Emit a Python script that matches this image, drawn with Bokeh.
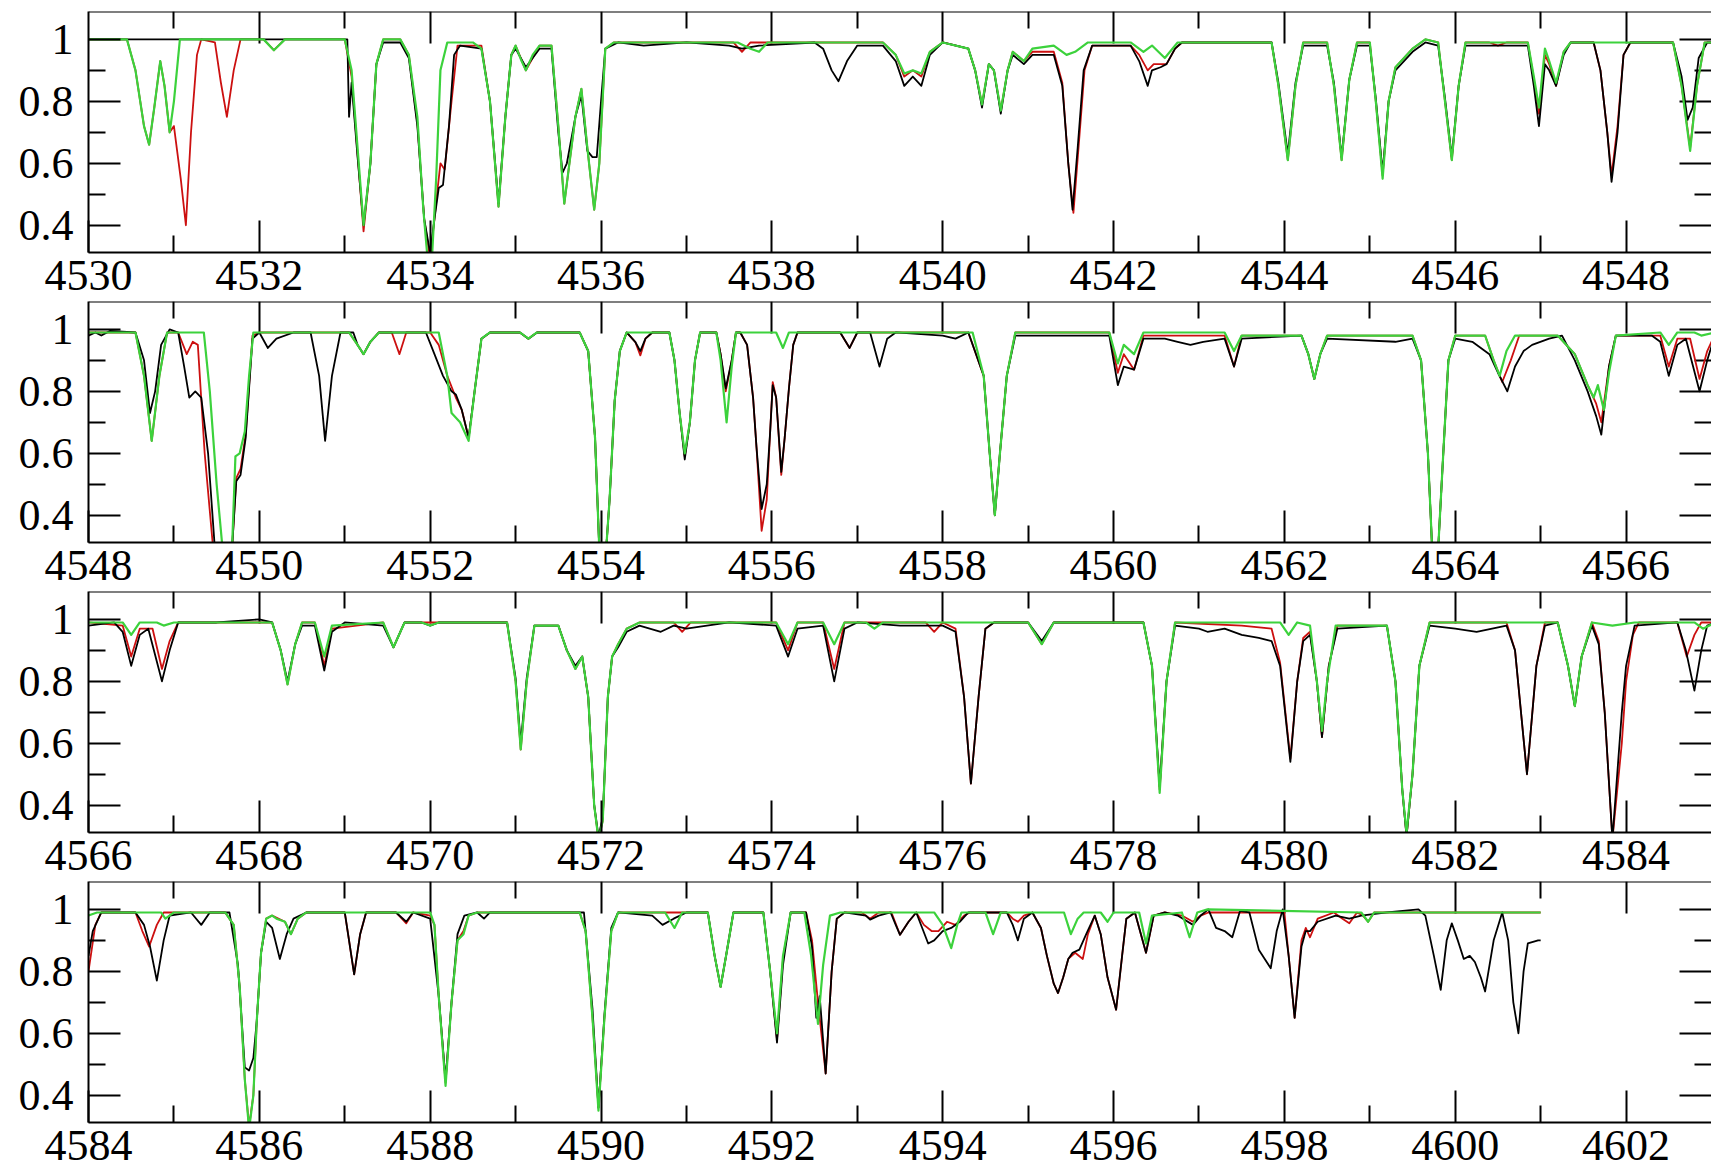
from bokeh.plotting import figure
from bokeh.layouts import column
from bokeh.models import LinearAxis, FixedTicker, Range1d, Grid, Span
from bokeh.embed import file_html
from bokeh.resources import INLINE

# ---------------- data (wavelength in Angstrom, normalised flux) ----------------
panel_ranges = [(4530, 4549), (4548, 4567), (4566, 4585), (4584, 4603)]
y_ticks = [0.4, 0.6, 0.8, 1.0]
y_minor_ticks = [0.5, 0.7, 0.9]
y_tick_labels = ["0.4", "0.6", "0.8", "1"]

# observed spectrum (black)
obs_1 = [(4530.00,1.00),(4533.03,1.00),(4533.05,0.75),(4533.08,0.86),(4533.15,0.62),(4533.22,0.40),(4533.30,0.60),(4533.37,0.92),(4533.45,0.99),(4533.65,0.99),(4533.75,0.94),(4533.85,0.72),(4533.93,0.42),(4534.00,0.31),(4534.05,0.42),(4534.10,0.52),(4534.15,0.53),(4534.22,0.72),(4534.28,0.95),(4534.35,0.98),(4534.60,0.97),(4534.70,0.80),(4534.80,0.47),(4534.88,0.75),(4534.95,0.95),(4535.00,0.97),(4535.12,0.91),(4535.28,0.97),(4535.42,0.97),(4535.50,0.70),(4535.55,0.57),(4535.60,0.60),(4535.70,0.75),(4535.77,0.82),(4535.84,0.64),(4535.90,0.62),(4535.95,0.62),(4536.00,0.80),(4536.05,0.97),(4536.20,0.99),(4536.50,0.98),(4537.00,0.99),(4537.50,0.98),(4537.65,0.97),(4537.85,0.98),(4538.50,0.99),(4538.60,0.97),(4538.70,0.90),(4538.78,0.865),(4538.88,0.93),(4539.00,0.98),(4539.30,0.98),(4539.45,0.93),(4539.55,0.85),(4539.65,0.88),(4539.75,0.85),(4539.85,0.95),(4540.00,0.99),(4540.30,0.97),(4540.38,0.90),(4540.46,0.78),(4540.54,0.92),(4540.60,0.90),(4540.68,0.76),(4540.76,0.90),(4540.82,0.95),(4540.95,0.92),(4541.05,0.95),(4541.30,0.95),(4541.40,0.85),(4541.47,0.60),(4541.52,0.45),(4541.58,0.65),(4541.65,0.90),(4541.75,0.98),(4542.20,0.98),(4542.30,0.93),(4542.40,0.85),(4542.45,0.90),(4542.55,0.91),(4542.62,0.92),(4542.72,0.97),(4542.80,0.99),(4543.85,0.99),(4543.93,0.86),(4544.04,0.63),(4544.13,0.86),(4544.22,0.98),(4544.50,0.98),(4544.58,0.86),(4544.67,0.62),(4544.76,0.87),(4544.85,0.98),(4545.00,0.98),(4545.07,0.81),(4545.15,0.57),(4545.22,0.80),(4545.30,0.90),(4545.50,0.96),(4545.65,0.99),(4545.80,0.98),(4545.88,0.81),(4545.96,0.62),(4546.04,0.85),(4546.12,0.98),(4546.85,0.98),(4546.92,0.85),(4546.98,0.72),(4547.05,0.92),(4547.10,0.90),(4547.18,0.85),(4547.27,0.95),(4547.35,0.99),(4547.62,0.99),(4547.70,0.90),(4547.78,0.70),(4547.83,0.54),(4547.90,0.70),(4547.97,0.95),(4548.05,0.99),(4548.55,0.99),(4548.65,0.88),(4548.72,0.74),(4548.78,0.78),(4548.85,0.94),(4548.95,0.99),(4549.05,0.99)]
obs_2 = [(4548.00,0.98),(4548.08,0.99),(4548.15,0.98),(4548.25,0.995),(4548.55,0.99),(4548.65,0.90),(4548.72,0.73),(4548.78,0.80),(4548.85,0.95),(4548.95,1.00),(4549.05,0.99),(4549.12,0.88),(4549.18,0.78),(4549.25,0.80),(4549.32,0.78),(4549.40,0.60),(4549.48,0.29),(4549.68,0.29),(4549.73,0.51),(4549.78,0.53),(4549.84,0.65),(4549.92,0.97),(4550.00,0.99),(4550.10,0.94),(4550.20,0.97),(4550.40,0.99),(4550.60,0.99),(4550.70,0.85),(4550.77,0.64),(4550.85,0.85),(4550.95,0.99),(4551.10,0.99),(4551.15,0.95),(4551.22,0.92),(4551.30,0.96),(4551.40,0.99),(4551.95,0.99),(4552.05,0.92),(4552.15,0.85),(4552.25,0.80),(4552.30,0.79),(4552.37,0.74),(4552.45,0.65),(4552.52,0.80),(4552.60,0.97),(4552.70,0.99),(4553.05,0.99),(4553.15,0.97),(4553.25,0.99),(4553.75,0.99),(4553.85,0.93),(4553.93,0.65),(4553.98,0.29),(4554.06,0.29),(4554.10,0.45),(4554.16,0.77),(4554.22,0.93),(4554.30,0.99),(4554.40,0.96),(4554.46,0.93),(4554.52,0.97),(4554.60,0.99),(4554.80,0.99),(4554.86,0.90),(4554.92,0.73),(4554.98,0.58),(4555.04,0.70),(4555.10,0.90),(4555.16,0.99),(4555.35,0.99),(4555.40,0.92),(4555.46,0.81),(4555.53,0.90),(4555.58,0.99),(4555.63,0.99),(4555.71,0.95),(4555.78,0.78),(4555.82,0.62),(4555.88,0.42),(4555.94,0.50),(4555.98,0.67),(4556.01,0.82),(4556.05,0.78),(4556.11,0.54),(4556.15,0.65),(4556.20,0.81),(4556.25,0.95),(4556.30,0.99),(4556.80,0.99),(4556.91,0.94),(4557.00,0.99),(4557.15,0.99),(4557.26,0.88),(4557.35,0.97),(4557.45,0.99),(4558.00,0.98),(4558.15,0.97),(4558.30,0.99),(4558.48,0.85),(4558.55,0.60),(4558.61,0.40),(4558.67,0.60),(4558.75,0.85),(4558.85,0.98),(4559.95,0.98),(4560.05,0.82),(4560.12,0.88),(4560.24,0.87),(4560.35,0.97),(4560.60,0.97),(4560.75,0.96),(4560.90,0.95),(4561.05,0.96),(4561.30,0.97),(4561.41,0.88),(4561.50,0.97),(4562.20,0.98),(4562.28,0.92),(4562.35,0.84),(4562.42,0.92),(4562.50,0.97),(4563.30,0.96),(4563.50,0.97),(4563.60,0.90),(4563.68,0.60),(4563.73,0.29),(4563.80,0.29),(4563.86,0.60),(4563.92,0.90),(4564.00,0.97),(4564.20,0.96),(4564.40,0.92),(4564.50,0.86),(4564.61,0.80),(4564.70,0.88),(4564.80,0.93),(4564.90,0.95),(4565.10,0.97),(4565.25,0.98),(4565.40,0.90),(4565.55,0.80),(4565.65,0.72),(4565.71,0.66),(4565.80,0.88),(4565.88,0.98),(4566.30,0.98),(4566.40,0.96),(4566.50,0.85),(4566.60,0.95),(4566.70,0.97),(4566.86,0.80),(4566.95,0.90),(4567.05,0.99)]
obs_3 = [(4566.00,0.98),(4566.30,0.99),(4566.40,0.96),(4566.50,0.85),(4566.60,0.95),(4566.70,0.97),(4566.86,0.80),(4566.95,0.90),(4567.05,0.99),(4567.50,0.99),(4568.00,1.00),(4568.15,0.99),(4568.25,0.90),(4568.33,0.80),(4568.42,0.92),(4568.50,0.98),(4568.65,0.98),(4568.76,0.835),(4568.85,0.96),(4569.00,0.99),(4569.45,0.98),(4569.57,0.91),(4569.70,0.99),(4569.90,0.99),(4570.00,0.98),(4570.10,0.99),(4570.90,0.99),(4571.00,0.81),(4571.06,0.60),(4571.13,0.81),(4571.22,0.98),(4571.50,0.98),(4571.60,0.90),(4571.70,0.85),(4571.78,0.88),(4571.85,0.75),(4571.92,0.40),(4571.97,0.30),(4572.02,0.36),(4572.08,0.75),(4572.13,0.88),(4572.20,0.91),(4572.30,0.96),(4572.45,0.98),(4572.70,0.96),(4572.85,0.98),(4573.00,0.97),(4573.50,0.99),(4574.05,0.98),(4574.19,0.88),(4574.30,0.97),(4574.60,0.98),(4574.73,0.80),(4574.85,0.97),(4575.00,0.99),(4575.50,0.98),(4576.00,0.98),(4576.15,0.96),(4576.25,0.75),(4576.33,0.47),(4576.42,0.75),(4576.50,0.97),(4576.60,0.99),(4577.00,0.99),(4577.16,0.93),(4577.30,0.99),(4578.35,0.99),(4578.45,0.85),(4578.54,0.46),(4578.62,0.80),(4578.72,0.98),(4579.00,0.97),(4579.10,0.96),(4579.30,0.97),(4579.50,0.95),(4579.70,0.94),(4579.85,0.93),(4579.95,0.85),(4580.07,0.54),(4580.15,0.80),(4580.22,0.93),(4580.30,0.95),(4580.38,0.80),(4580.44,0.62),(4580.52,0.85),(4580.62,0.97),(4581.20,0.98),(4581.30,0.80),(4581.38,0.45),(4581.43,0.30),(4581.50,0.50),(4581.58,0.85),(4581.70,0.98),(4582.00,0.97),(4582.25,0.96),(4582.60,0.98),(4582.70,0.90),(4582.84,0.50),(4582.95,0.85),(4583.05,0.98),(4583.20,0.99),(4583.32,0.85),(4583.40,0.72),(4583.48,0.88),(4583.60,0.98),(4583.68,0.92),(4583.75,0.70),(4583.84,0.29),(4583.95,0.70),(4584.00,0.85),(4584.10,0.98),(4584.60,0.99),(4584.70,0.90),(4584.80,0.77),(4584.88,0.90),(4584.95,0.98),(4585.05,0.99)]
obs_4 = [(4584.00,0.85),(4584.05,0.93),(4584.15,0.99),(4584.55,0.99),(4584.65,0.95),(4584.72,0.88),(4584.80,0.77),(4584.88,0.90),(4584.95,0.98),(4585.20,0.99),(4585.32,0.95),(4585.42,0.99),(4585.65,0.99),(4585.75,0.82),(4585.83,0.49),(4585.88,0.48),(4585.93,0.52),(4585.97,0.64),(4586.02,0.86),(4586.08,0.96),(4586.15,0.94),(4586.24,0.84),(4586.32,0.92),(4586.40,0.97),(4586.55,0.99),(4587.00,0.99),(4587.05,0.90),(4587.11,0.79),(4587.18,0.92),(4587.25,0.99),(4587.60,0.99),(4587.72,0.96),(4587.80,0.99),(4588.00,0.97),(4588.10,0.72),(4588.18,0.45),(4588.25,0.70),(4588.32,0.92),(4588.40,0.98),(4588.55,0.99),(4588.63,0.97),(4588.70,0.99),(4589.80,0.99),(4589.90,0.68),(4589.97,0.36),(4590.04,0.66),(4590.12,0.94),(4590.20,0.99),(4590.60,0.98),(4590.72,0.95),(4590.85,0.97),(4591.00,0.99),(4591.25,0.99),(4591.33,0.85),(4591.40,0.75),(4591.47,0.86),(4591.55,0.99),(4591.90,0.99),(4591.98,0.80),(4592.06,0.57),(4592.13,0.82),(4592.22,0.99),(4592.40,0.99),(4592.47,0.88),(4592.52,0.65),(4592.56,0.72),(4592.63,0.47),(4592.70,0.80),(4592.76,0.97),(4592.85,0.99),(4593.10,0.98),(4593.15,0.967),(4593.25,0.98),(4593.39,0.99),(4593.45,0.95),(4593.50,0.918),(4593.60,0.96),(4593.69,0.99),(4593.76,0.94),(4593.83,0.89),(4593.90,0.90),(4594.00,0.93),(4594.10,0.94),(4594.20,0.96),(4594.30,0.99),(4594.75,0.99),(4594.82,0.95),(4594.88,0.90),(4594.95,0.97),(4595.05,0.99),(4595.15,0.94),(4595.22,0.85),(4595.30,0.76),(4595.35,0.73),(4595.41,0.78),(4595.47,0.84),(4595.52,0.86),(4595.60,0.87),(4595.68,0.92),(4595.78,0.98),(4595.85,0.92),(4595.93,0.78),(4596.03,0.676),(4596.10,0.85),(4596.15,0.97),(4596.25,0.99),(4596.38,0.86),(4596.47,0.98),(4596.60,0.99),(4596.75,0.98),(4596.93,0.95),(4597.02,0.98),(4597.11,1.00),(4597.20,0.94),(4597.30,0.93),(4597.39,0.91),(4597.48,0.995),(4597.59,0.99),(4597.70,0.87),(4597.84,0.81),(4597.91,0.93),(4597.98,1.00),(4598.05,0.85),(4598.12,0.65),(4598.20,0.88),(4598.25,0.93),(4598.30,0.93),(4598.39,0.96),(4598.60,0.98),(4598.76,0.97),(4598.90,0.98),(4599.20,0.99),(4599.57,1.00),(4599.65,0.98),(4599.75,0.85),(4599.83,0.74),(4599.90,0.90),(4599.96,0.955),(4600.03,0.90),(4600.10,0.84),(4600.17,0.85),(4600.23,0.83),(4600.30,0.78),(4600.35,0.735),(4600.45,0.90),(4600.55,0.99),(4600.62,0.90),(4600.68,0.70),(4600.74,0.60),(4600.80,0.80),(4600.85,0.89),(4600.97,0.90),(4601.00,0.90)]

# first model (red)
model_a_1 = [(4530.00,1.00),(4530.45,1.00),(4530.55,0.90),(4530.65,0.72),(4530.71,0.66),(4530.77,0.78),(4530.84,0.93),(4530.89,0.85),(4530.95,0.70),(4531.00,0.72),(4531.08,0.55),(4531.14,0.40),(4531.20,0.70),(4531.27,0.95),(4531.32,1.00),(4531.48,0.99),(4531.55,0.86),(4531.62,0.75),(4531.70,0.90),(4531.78,1.00),(4532.05,1.00),(4532.17,0.965),(4532.30,1.00),(4533.00,1.00),(4533.08,0.88),(4533.15,0.63),(4533.22,0.38),(4533.30,0.60),(4533.37,0.92),(4533.45,1.00),(4533.65,1.00),(4533.75,0.95),(4533.85,0.73),(4533.93,0.42),(4534.00,0.29),(4534.08,0.50),(4534.12,0.60),(4534.17,0.58),(4534.25,0.80),(4534.32,0.98),(4534.60,0.98),(4534.70,0.80),(4534.80,0.46),(4534.88,0.75),(4534.95,0.95),(4535.00,0.98),(4535.12,0.90),(4535.28,0.98),(4535.42,0.98),(4535.50,0.72),(4535.57,0.47),(4535.63,0.60),(4535.70,0.75),(4535.77,0.84),(4535.84,0.65),(4535.92,0.45),(4535.98,0.60),(4536.05,0.97),(4536.15,0.99),(4537.55,0.99),(4537.65,0.96),(4537.75,0.99),(4539.30,0.99),(4539.45,0.95),(4539.55,0.88),(4539.65,0.90),(4539.75,0.88),(4539.85,0.96),(4540.00,0.99),(4540.30,0.97),(4540.38,0.90),(4540.46,0.79),(4540.54,0.92),(4540.60,0.90),(4540.68,0.77),(4540.76,0.90),(4540.82,0.96),(4540.95,0.93),(4541.05,0.96),(4541.30,0.96),(4541.40,0.86),(4541.47,0.60),(4541.53,0.44),(4541.59,0.65),(4541.66,0.90),(4541.75,0.98),(4542.20,0.98),(4542.30,0.95),(4542.40,0.90),(4542.47,0.92),(4542.55,0.92),(4542.62,0.92),(4542.72,0.97),(4542.80,0.99),(4543.85,0.99),(4543.93,0.85),(4544.04,0.61),(4544.13,0.85),(4544.22,0.99),(4544.50,0.99),(4544.58,0.85),(4544.67,0.61),(4544.76,0.87),(4544.85,0.99),(4545.00,0.99),(4545.07,0.80),(4545.15,0.56),(4545.22,0.80),(4545.30,0.91),(4545.50,0.97),(4545.65,1.00),(4545.80,0.99),(4545.88,0.80),(4545.96,0.61),(4546.04,0.85),(4546.12,0.99),(4546.40,0.99),(4546.50,0.98),(4546.60,0.99),(4546.85,0.99),(4546.92,0.87),(4546.98,0.76),(4547.05,0.95),(4547.10,0.92),(4547.18,0.85),(4547.27,0.96),(4547.35,0.99),(4547.62,0.99),(4547.70,0.90),(4547.78,0.70),(4547.83,0.56),(4547.90,0.72),(4547.97,0.95),(4548.05,0.99),(4548.55,0.99),(4548.65,0.85),(4548.75,0.65),(4548.83,0.85),(4548.92,0.99),(4549.05,0.99)]
model_a_2 = [(4548.00,0.99),(4548.55,0.99),(4548.65,0.85),(4548.74,0.64),(4548.83,0.85),(4548.92,0.99),(4549.05,0.99),(4549.15,0.92),(4549.22,0.96),(4549.28,0.95),(4549.36,0.60),(4549.46,0.29),(4549.68,0.29),(4549.73,0.52),(4549.78,0.55),(4549.84,0.66),(4549.92,0.98),(4550.00,0.99),(4551.05,0.99),(4551.15,0.95),(4551.22,0.92),(4551.30,0.96),(4551.40,0.99),(4551.55,0.99),(4551.64,0.92),(4551.72,0.99),(4552.00,0.99),(4552.10,0.95),(4552.20,0.85),(4552.30,0.78),(4552.37,0.74),(4552.45,0.65),(4552.52,0.80),(4552.60,0.97),(4552.70,0.99),(4553.05,0.99),(4553.15,0.97),(4553.25,0.99),(4553.75,0.99),(4553.85,0.93),(4553.93,0.65),(4553.98,0.29),(4554.06,0.29),(4554.10,0.45),(4554.16,0.77),(4554.22,0.93),(4554.30,0.99),(4554.40,0.96),(4554.46,0.916),(4554.52,0.97),(4554.60,0.99),(4554.80,0.99),(4554.86,0.90),(4554.92,0.73),(4554.98,0.59),(4555.04,0.70),(4555.10,0.90),(4555.16,0.99),(4555.35,0.99),(4555.40,0.92),(4555.46,0.80),(4555.53,0.90),(4555.58,0.99),(4555.63,0.99),(4555.71,0.95),(4555.78,0.78),(4555.82,0.62),(4555.88,0.35),(4555.94,0.45),(4555.98,0.67),(4556.01,0.83),(4556.05,0.78),(4556.11,0.53),(4556.15,0.65),(4556.20,0.81),(4556.25,0.95),(4556.30,0.99),(4556.80,0.99),(4556.91,0.94),(4557.00,0.99),(4558.30,0.99),(4558.48,0.85),(4558.55,0.60),(4558.61,0.40),(4558.67,0.60),(4558.75,0.85),(4558.85,0.99),(4559.95,0.99),(4560.05,0.86),(4560.12,0.92),(4560.24,0.87),(4560.35,0.98),(4561.30,0.98),(4561.41,0.88),(4561.50,0.98),(4562.20,0.98),(4562.28,0.92),(4562.35,0.84),(4562.42,0.92),(4562.50,0.98),(4563.50,0.98),(4563.60,0.90),(4563.68,0.60),(4563.73,0.29),(4563.80,0.29),(4563.86,0.60),(4563.92,0.90),(4564.00,0.98),(4564.35,0.98),(4564.45,0.90),(4564.55,0.83),(4564.65,0.90),(4564.75,0.98),(4565.20,0.98),(4565.40,0.92),(4565.55,0.82),(4565.65,0.76),(4565.71,0.70),(4565.80,0.88),(4565.88,0.98),(4566.40,0.98),(4566.50,0.88),(4566.60,0.97),(4566.75,0.97),(4566.86,0.84),(4566.95,0.93),(4567.05,0.99)]
model_a_3 = [(4566.00,0.99),(4566.40,0.98),(4566.50,0.88),(4566.60,0.97),(4566.75,0.97),(4566.86,0.84),(4566.95,0.93),(4567.05,0.99),(4568.15,0.99),(4568.25,0.90),(4568.33,0.79),(4568.42,0.92),(4568.50,0.99),(4568.65,0.99),(4568.76,0.85),(4568.85,0.97),(4569.45,0.99),(4569.57,0.91),(4569.70,0.99),(4570.90,0.99),(4571.00,0.80),(4571.06,0.58),(4571.13,0.80),(4571.22,0.98),(4571.50,0.98),(4571.60,0.90),(4571.70,0.84),(4571.78,0.88),(4571.85,0.75),(4571.92,0.40),(4571.97,0.29),(4572.02,0.35),(4572.08,0.75),(4572.13,0.88),(4572.20,0.92),(4572.30,0.97),(4572.45,0.99),(4572.85,0.99),(4572.95,0.96),(4573.05,0.99),(4574.05,0.99),(4574.19,0.90),(4574.30,0.99),(4574.60,0.99),(4574.73,0.84),(4574.85,0.99),(4575.80,0.99),(4575.90,0.96),(4576.00,0.99),(4576.15,0.97),(4576.25,0.75),(4576.33,0.47),(4576.42,0.75),(4576.50,0.97),(4576.60,0.99),(4577.00,0.99),(4577.16,0.92),(4577.30,0.99),(4578.35,0.99),(4578.45,0.85),(4578.54,0.45),(4578.62,0.80),(4578.72,0.99),(4579.50,0.98),(4579.85,0.97),(4579.95,0.86),(4580.07,0.55),(4580.15,0.80),(4580.22,0.94),(4580.30,0.96),(4580.38,0.80),(4580.44,0.62),(4580.52,0.85),(4580.62,0.98),(4581.20,0.98),(4581.30,0.80),(4581.38,0.45),(4581.43,0.30),(4581.50,0.50),(4581.58,0.85),(4581.70,0.99),(4582.60,0.99),(4582.70,0.90),(4582.84,0.50),(4582.95,0.85),(4583.05,0.99),(4583.20,0.99),(4583.32,0.85),(4583.40,0.72),(4583.48,0.88),(4583.60,0.99),(4583.68,0.93),(4583.75,0.70),(4583.84,0.29),(4583.95,0.60),(4584.00,0.80),(4584.08,0.95),(4584.15,0.99),(4584.60,0.99),(4584.71,0.88),(4584.80,0.95),(4584.88,0.99),(4585.05,0.99)]
model_a_4 = [(4584.00,0.80),(4584.08,0.95),(4584.15,0.99),(4584.55,0.99),(4584.63,0.93),(4584.71,0.88),(4584.80,0.95),(4584.88,0.99),(4585.60,0.99),(4585.70,0.95),(4585.77,0.75),(4585.83,0.45),(4585.88,0.30),(4585.93,0.40),(4585.97,0.64),(4586.02,0.86),(4586.08,0.97),(4586.15,0.98),(4586.30,0.96),(4586.37,0.92),(4586.45,0.97),(4586.55,0.99),(4587.00,0.99),(4587.05,0.90),(4587.11,0.79),(4587.18,0.92),(4587.25,0.99),(4587.60,0.99),(4587.72,0.955),(4587.80,0.99),(4588.00,0.98),(4588.05,0.95),(4588.10,0.72),(4588.18,0.44),(4588.25,0.70),(4588.32,0.90),(4588.39,0.93),(4588.45,0.98),(4588.55,0.99),(4589.75,0.99),(4589.82,0.93),(4589.90,0.65),(4589.97,0.36),(4590.04,0.65),(4590.12,0.93),(4590.20,0.99),(4591.25,0.99),(4591.33,0.85),(4591.40,0.75),(4591.47,0.86),(4591.55,0.99),(4591.90,0.99),(4591.98,0.80),(4592.06,0.58),(4592.13,0.84),(4592.22,0.99),(4592.40,0.99),(4592.47,0.90),(4592.54,0.70),(4592.63,0.47),(4592.70,0.80),(4592.76,0.97),(4592.85,0.99),(4593.05,0.99),(4593.15,0.97),(4593.25,0.99),(4593.40,0.99),(4593.50,0.918),(4593.60,0.96),(4593.69,0.99),(4593.78,0.95),(4593.87,0.93),(4593.95,0.93),(4594.05,0.96),(4594.15,0.95),(4594.25,0.98),(4594.32,0.99),(4594.75,0.99),(4594.82,0.97),(4594.88,0.96),(4594.95,0.98),(4595.05,0.99),(4595.15,0.94),(4595.22,0.85),(4595.30,0.76),(4595.35,0.73),(4595.41,0.78),(4595.47,0.84),(4595.55,0.86),(4595.64,0.84),(4595.70,0.92),(4595.78,0.98),(4595.85,0.92),(4595.93,0.78),(4596.03,0.676),(4596.10,0.85),(4596.15,0.97),(4596.25,0.99),(4596.38,0.86),(4596.47,0.98),(4596.60,0.99),(4596.80,0.98),(4596.93,0.96),(4597.02,0.98),(4597.11,0.99),(4597.90,0.99),(4598.00,0.99),(4598.05,0.85),(4598.12,0.65),(4598.20,0.90),(4598.25,0.94),(4598.30,0.91),(4598.39,0.97),(4598.58,0.99),(4598.68,0.97),(4598.76,0.955),(4598.85,0.99),(4598.92,0.98),(4598.98,0.96),(4599.05,0.99),(4601.00,0.99)]

# second model (green)
model_b_1 = [(4530.00,1.00),(4530.45,1.00),(4530.55,0.90),(4530.65,0.72),(4530.71,0.66),(4530.77,0.78),(4530.84,0.93),(4530.89,0.85),(4530.95,0.70),(4531.00,0.80),(4531.07,1.00),(4532.05,1.00),(4532.17,0.965),(4532.30,1.00),(4533.00,1.00),(4533.08,0.90),(4533.15,0.65),(4533.22,0.40),(4533.30,0.60),(4533.37,0.92),(4533.45,1.00),(4533.65,1.00),(4533.75,0.95),(4533.85,0.75),(4533.92,0.45),(4533.97,0.29),(4534.02,0.29),(4534.07,0.55),(4534.12,0.90),(4534.20,0.99),(4534.50,0.99),(4534.60,0.97),(4534.70,0.80),(4534.80,0.46),(4534.88,0.75),(4534.95,0.95),(4535.00,0.98),(4535.07,0.93),(4535.12,0.90),(4535.20,0.95),(4535.28,0.98),(4535.42,0.98),(4535.50,0.72),(4535.57,0.47),(4535.63,0.60),(4535.70,0.75),(4535.77,0.84),(4535.84,0.65),(4535.92,0.45),(4535.98,0.60),(4536.05,0.97),(4536.15,0.99),(4537.60,0.99),(4537.75,0.97),(4537.85,0.96),(4537.95,0.99),(4539.30,0.99),(4539.45,0.95),(4539.55,0.89),(4539.65,0.90),(4539.75,0.89),(4539.85,0.96),(4540.00,0.99),(4540.30,0.97),(4540.38,0.90),(4540.46,0.79),(4540.54,0.92),(4540.60,0.90),(4540.68,0.77),(4540.76,0.90),(4540.82,0.96),(4540.95,0.93),(4541.05,0.97),(4541.30,0.98),(4541.45,0.95),(4541.55,0.96),(4541.70,0.99),(4542.20,0.99),(4542.35,0.96),(4542.45,0.98),(4542.60,0.94),(4542.75,0.99),(4543.85,0.99),(4543.93,0.85),(4544.04,0.61),(4544.13,0.85),(4544.22,0.99),(4544.50,0.99),(4544.58,0.85),(4544.67,0.61),(4544.76,0.87),(4544.85,0.99),(4545.00,0.99),(4545.07,0.80),(4545.15,0.55),(4545.22,0.80),(4545.30,0.91),(4545.50,0.97),(4545.65,1.00),(4545.80,0.99),(4545.88,0.80),(4545.96,0.61),(4546.04,0.85),(4546.12,0.99),(4546.85,0.99),(4546.92,0.88),(4546.98,0.78),(4547.05,0.97),(4547.10,0.93),(4547.18,0.86),(4547.27,0.96),(4547.35,0.99),(4548.55,0.99),(4548.65,0.85),(4548.75,0.64),(4548.83,0.85),(4548.92,0.99),(4549.05,0.99)]
model_b_2 = [(4548.00,0.99),(4548.55,0.99),(4548.65,0.85),(4548.74,0.64),(4548.83,0.85),(4548.92,0.99),(4549.35,0.99),(4549.42,0.80),(4549.50,0.50),(4549.57,0.29),(4549.68,0.29),(4549.72,0.59),(4549.77,0.60),(4549.83,0.67),(4549.88,0.85),(4549.93,0.99),(4551.05,0.99),(4551.15,0.95),(4551.22,0.92),(4551.30,0.96),(4551.40,0.99),(4552.10,0.99),(4552.20,0.85),(4552.25,0.73),(4552.35,0.70),(4552.45,0.64),(4552.52,0.80),(4552.60,0.97),(4552.70,0.99),(4553.05,0.99),(4553.15,0.97),(4553.25,0.99),(4553.75,0.99),(4553.85,0.93),(4553.93,0.65),(4553.98,0.29),(4554.06,0.29),(4554.10,0.45),(4554.16,0.77),(4554.22,0.93),(4554.30,0.99),(4554.80,0.99),(4554.86,0.90),(4554.92,0.73),(4554.98,0.60),(4555.04,0.70),(4555.10,0.90),(4555.16,0.99),(4555.35,0.99),(4555.40,0.90),(4555.47,0.70),(4555.53,0.88),(4555.58,0.99),(4556.05,0.99),(4556.13,0.94),(4556.20,0.99),(4558.35,0.99),(4558.48,0.85),(4558.55,0.60),(4558.61,0.40),(4558.67,0.60),(4558.75,0.85),(4558.85,0.99),(4559.95,0.99),(4560.05,0.89),(4560.12,0.95),(4560.24,0.92),(4560.35,0.99),(4561.30,0.99),(4561.41,0.93),(4561.50,0.98),(4562.20,0.98),(4562.28,0.92),(4562.35,0.84),(4562.42,0.92),(4562.50,0.98),(4563.50,0.98),(4563.60,0.90),(4563.68,0.60),(4563.73,0.29),(4563.80,0.29),(4563.86,0.60),(4563.92,0.90),(4564.00,0.98),(4564.35,0.98),(4564.45,0.90),(4564.52,0.85),(4564.60,0.93),(4564.70,0.98),(4565.20,0.98),(4565.40,0.92),(4565.55,0.82),(4565.62,0.78),(4565.67,0.82),(4565.74,0.74),(4565.80,0.86),(4565.88,0.98),(4566.40,0.99),(4566.50,0.95),(4566.60,0.99),(4566.80,0.99),(4566.88,0.98),(4567.05,0.99)]
model_b_3 = [(4566.00,0.99),(4566.40,0.99),(4566.50,0.95),(4566.60,0.99),(4566.80,0.99),(4566.88,0.98),(4567.00,0.99),(4568.15,0.99),(4568.25,0.90),(4568.33,0.79),(4568.42,0.92),(4568.50,0.99),(4568.65,0.99),(4568.76,0.88),(4568.85,0.98),(4569.45,0.99),(4569.57,0.91),(4569.70,0.99),(4569.90,0.99),(4570.00,0.98),(4570.10,0.99),(4570.90,0.99),(4571.00,0.80),(4571.06,0.58),(4571.13,0.80),(4571.22,0.98),(4571.50,0.98),(4571.60,0.90),(4571.70,0.84),(4571.78,0.88),(4571.85,0.75),(4571.92,0.40),(4571.97,0.29),(4572.02,0.35),(4572.08,0.75),(4572.13,0.88),(4572.20,0.92),(4572.30,0.97),(4572.45,0.99),(4574.05,0.99),(4574.19,0.92),(4574.30,0.99),(4574.60,0.99),(4574.73,0.92),(4574.85,0.99),(4575.10,0.99),(4575.20,0.97),(4575.30,0.99),(4577.00,0.99),(4577.16,0.92),(4577.30,0.99),(4578.35,0.99),(4578.45,0.85),(4578.54,0.44),(4578.62,0.80),(4578.72,0.99),(4579.95,0.99),(4580.05,0.95),(4580.15,0.99),(4580.30,0.98),(4580.38,0.80),(4580.44,0.64),(4580.50,0.80),(4580.60,0.98),(4581.20,0.98),(4581.30,0.80),(4581.38,0.45),(4581.43,0.31),(4581.50,0.50),(4581.58,0.85),(4581.70,0.99),(4583.20,0.99),(4583.32,0.85),(4583.40,0.72),(4583.48,0.88),(4583.60,0.99),(4583.84,0.98),(4584.10,0.99),(4584.80,0.99),(4584.90,0.97),(4585.05,0.99)]
model_b_4 = [(4584.00,0.98),(4584.10,0.99),(4584.85,0.99),(4584.90,0.97),(4585.00,0.99),(4585.60,0.99),(4585.70,0.95),(4585.77,0.75),(4585.83,0.45),(4585.88,0.29),(4585.93,0.40),(4585.97,0.64),(4586.02,0.86),(4586.08,0.97),(4586.15,0.98),(4586.20,0.97),(4586.30,0.96),(4586.37,0.92),(4586.45,0.97),(4586.55,0.99),(4588.00,0.99),(4588.05,0.95),(4588.10,0.72),(4588.18,0.43),(4588.25,0.70),(4588.32,0.90),(4588.39,0.92),(4588.45,0.98),(4588.55,0.99),(4589.75,0.99),(4589.82,0.93),(4589.90,0.65),(4589.97,0.35),(4590.04,0.65),(4590.12,0.93),(4590.20,0.99),(4590.75,0.99),(4590.86,0.94),(4590.95,0.99),(4591.25,0.99),(4591.33,0.85),(4591.40,0.75),(4591.47,0.86),(4591.55,0.99),(4591.90,0.99),(4591.98,0.80),(4592.06,0.60),(4592.13,0.85),(4592.22,0.99),(4592.38,0.99),(4592.46,0.85),(4592.54,0.63),(4592.60,0.82),(4592.68,0.98),(4592.80,0.99),(4593.90,0.99),(4594.00,0.95),(4594.10,0.875),(4594.17,0.95),(4594.22,0.99),(4594.50,0.99),(4594.59,0.92),(4594.68,0.99),(4595.42,0.99),(4595.50,0.92),(4595.58,0.97),(4595.65,0.99),(4595.85,0.99),(4595.93,0.96),(4596.00,0.99),(4596.30,0.99),(4596.38,0.89),(4596.45,0.98),(4596.80,0.99),(4596.89,0.91),(4596.98,0.99),(4597.10,1.00),(4598.90,0.99),(4598.98,0.96),(4599.05,0.99),(4601.00,0.99)]

observed = [obs_1, obs_2, obs_3, obs_4]
model_a = [model_a_1, model_a_2, model_a_3, model_a_4]
model_b = [model_b_1, model_b_2, model_b_3, model_b_4]

# ---------------- styling ----------------
Y0, Y1 = 0.312, 1.09
FRAME_W, FRAME_H = 1623, 241
LEFT = 88
TOP_FIRST = 11
FONT = "Liberation Serif"
FSIZE = "44px"
MAJOR_LEN, MINOR_LEN = 32, 17     # tick lengths in pixels
TICK_W = 2


def style(ax):
    ax.axis_line_width = TICK_W
    ax.axis_line_color = "black"
    ax.major_tick_in = MAJOR_LEN
    ax.major_tick_out = 0
    ax.minor_tick_in = MINOR_LEN
    ax.minor_tick_out = 0
    ax.major_tick_line_width = TICK_W
    ax.minor_tick_line_width = TICK_W
    ax.major_tick_line_color = "black"
    ax.minor_tick_line_color = "black"
    ax.major_label_text_font = FONT
    ax.major_label_text_color = "black"
    ax.major_label_text_font_size = FSIZE


HAS_CROSS = "cross_bounds" in Grid.properties()


def mirror_ticks(p, dim, ticks, length_px, lo, hi, span_px):
    """Inward tick marks on the top (dim=0) or right (dim=1) frame edge."""
    length = (hi - lo) * length_px / span_px
    if HAS_CROSS:
        g = Grid(dimension=dim, ticker=FixedTicker(ticks=ticks),
                 grid_line_color="black", grid_line_width=TICK_W,
                 minor_grid_line_color=None, cross_bounds=(hi - length, hi))
        p.add_layout(g)
    else:
        if dim == 0:
            p.segment(x0=ticks, x1=ticks, y0=[hi] * len(ticks), y1=[hi - length] * len(ticks),
                      line_color="black", line_width=TICK_W)
        else:
            p.segment(x0=[hi] * len(ticks), x1=[hi - length] * len(ticks), y0=ticks, y1=ticks,
                      line_color="black", line_width=TICK_W)


figs = []
for i, (lo, hi) in enumerate(panel_ranges):
    p = figure(frame_width=FRAME_W, frame_height=FRAME_H,
               x_range=Range1d(lo, hi), y_range=Range1d(Y0, Y1),
               output_backend="svg", toolbar_location=None,
               x_axis_location=None, y_axis_location=None,
               min_border_left=LEFT, min_border_right=0,
               min_border_top=TOP_FIRST if i == 0 else 0, min_border_bottom=49,
               background_fill_color="white", border_fill_color="white",
               outline_line_color=None)
    p.grid.visible = False

    x_major = list(range(lo, hi + 1, 2))
    x_minor = [v for v in range(lo + 1, hi, 2)]

    bottom = LinearAxis(ticker=FixedTicker(ticks=x_major, minor_ticks=x_minor))
    style(bottom)
    bottom.major_label_standoff = 8
    left = LinearAxis(ticker=FixedTicker(ticks=y_ticks, minor_ticks=y_minor_ticks),
                      major_label_overrides=dict(zip(y_ticks, y_tick_labels)))
    style(left)
    left.major_label_standoff = 15
    p.add_layout(bottom, "below")
    p.add_layout(left, "left")

    # top frame edge and mirrored inward ticks (top and right)
    p.add_layout(Span(location=Y1, dimension="width", line_color="black", line_width=TICK_W))
    mirror_ticks(p, 0, x_major, MAJOR_LEN, Y0, Y1, FRAME_H)
    mirror_ticks(p, 0, x_minor, MINOR_LEN, Y0, Y1, FRAME_H)
    mirror_ticks(p, 1, y_ticks, MAJOR_LEN, lo, hi, FRAME_W)
    mirror_ticks(p, 1, y_minor_ticks, MINOR_LEN, lo, hi, FRAME_W)

    for data, color, width in ((model_a[i], "#cc1010", 1.8),
                               (observed[i], "black", 1.8),
                               (model_b[i], "#3cd23c", 2.2)):
        xs = [d[0] for d in data]
        ys = [d[1] for d in data]
        p.line(xs, ys, line_color=color, line_width=width, line_join="round")
    figs.append(p)

layout = column(*figs, spacing=0)
open("out.html", "w").write(file_html(layout, INLINE))
